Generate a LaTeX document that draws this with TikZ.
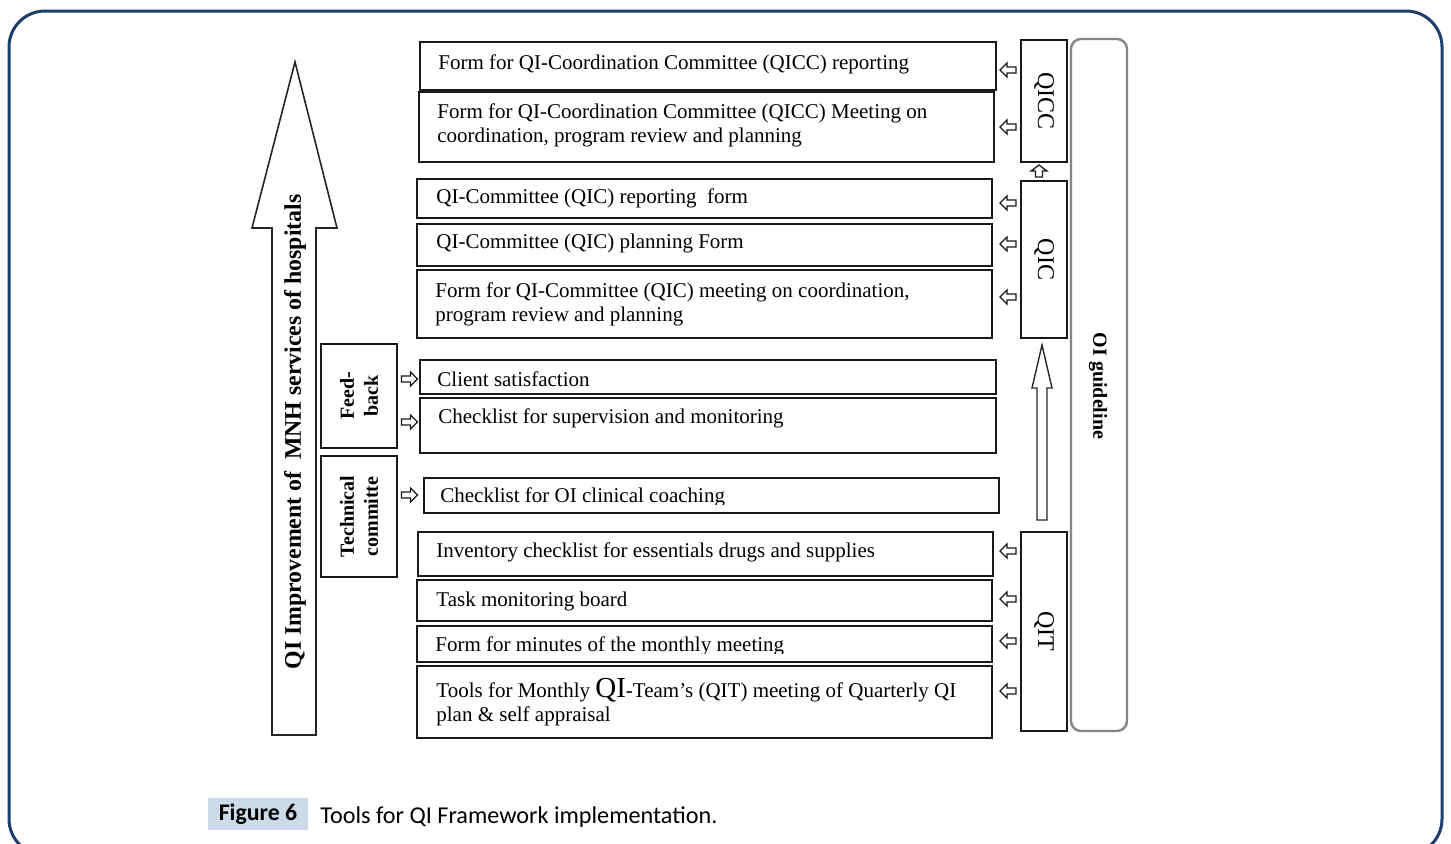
\documentclass[tikz,border=0pt]{standalone}
\usepackage{fontspec}
\setmainfont{Liberation Serif}
\newfontfamily\capfont{Carlito}
\usetikzlibrary{calc}

\definecolor{framenavy}{HTML}{1D3D6C}
\definecolor{capfill}{HTML}{CDDAE8}
\definecolor{guidegray}{HTML}{858585}

\tikzset{
  box/.style={draw=black!90, line width=0.9pt, inner sep=0pt, outer sep=0pt},
  boxtext/.style={anchor=west, inner sep=0pt, align=left, font=\fontsize{10.5}{12}\selectfont},
  sidetext/.style={inner sep=0pt, font=\fontsize{12}{14}\selectfont},
  boldtext/.style={inner sep=0pt, align=center, font=\bfseries\fontsize{10}{12}\selectfont},
  hollow/.style={draw=black!90, line width=0.65pt, line join=miter, fill=white},
  bigarrow/.style={draw=black!85, line width=0.8pt, line join=miter, fill=white},
  larr/.pic={\draw[hollow] (-8,0) -- (-1,-7) -- (-1,-3) -- (8,-3) -- (8,3) -- (-1,3) -- (-1,7) -- cycle;},
  rarr/.pic={\draw[hollow] (8,0) -- (1,-7) -- (1,-3) -- (-8,-3) -- (-8,3) -- (1,3) -- (1,7) -- cycle;},
  uarr/.pic={\draw[hollow] (0,-6) -- (8,0) -- (3.5,0) -- (3.5,6) -- (-3.5,6) -- (-3.5,0) -- (-8,0) -- cycle;},
}

% a plain rectangle node given by its corners (in px units)
\newcommand\rectnode[5]{%
  \node[box, minimum width={(#4-#2)*0.5pt}, minimum height={(#5-#3)*0.5pt}]
    (#1) at ({(#2+#4)/2},{(#3+#5)/2}) {};}

\begin{document}
\begin{tikzpicture}[x=0.5pt, y=-0.5pt]
\useasboundingbox (0,0) rectangle (1451,843);

% outer frame of the figure
\draw[framenavy, line width=1.5pt, rounded corners=18pt] (9,11) rectangle (1442,855);

% large upward arrow on the left
\draw[bigarrow] (272,735) -- (272,228) -- (252,228) -- (295,62) -- (337,228)
  -- (316,228) -- (316,735) -- cycle;
\node[inner sep=0pt, rotate=90, font=\bfseries\fontsize{11.9}{14}\selectfont]
  (improve) at (295,432) {QI Improvement of\ \ MNH services of hospitals};

% feedback and technical committee boxes
\rectnode{feed}{321}{344}{397}{448}
\node[boldtext, rotate=90] (feedtxt) at (feed) {Feed-\\back};
\rectnode{tech}{321}{456}{397}{577}
\node[boldtext, rotate=90] (techtxt) at (tech) {Technical\\committe};

% tool forms
\rectnode{f1}{420}{42}{996}{90}
\node[boxtext] (t1) at (438,64) {Form for QI-Coordination Committee (QICC) reporting};
\rectnode{f2}{419}{92}{994}{162}
\node[boxtext] (t2) at (437,125) {Form for QI-Coordination Committee (QICC) Meeting on\\coordination, program review and planning};
\rectnode{f3}{417}{179}{992}{218}
\node[boxtext] (t3) at (436,198) {QI-Committee (QIC) reporting\ \ form};
\rectnode{f4}{417}{224}{992}{266}
\node[boxtext] (t4) at (436,243) {QI-Committee (QIC) planning Form};
\rectnode{f5}{417}{270}{992}{338}
\node[boxtext] (t5) at (435,304) {Form for QI-Committee (QIC) meeting on coordination,\\program review and planning};
\rectnode{f6}{420}{360}{996}{394}
\node[boxtext] (t6) at (437,379) {Client satisfaction};
\rectnode{f7}{420}{398}{996}{453}
\node[boxtext] (t7) at (438,418) {Checklist for supervision and monitoring};
\rectnode{f8}{424}{478}{999}{513}
\begin{scope}
  \clip (424,478) rectangle (999,504);
  \node[boxtext] (t8) at (440,497) {Checklist for OI clinical coaching};
\end{scope}
\rectnode{f9}{418}{532}{993}{576}
\node[boxtext] (t9) at (436,552) {Inventory checklist for essentials drugs and supplies};
\rectnode{f10}{417}{580}{992}{621}
\node[boxtext] (t10) at (436,601) {Task monitoring board};
\rectnode{f11}{417}{626}{992}{662}
\begin{scope}
  \clip (417,626) rectangle (992,653);
  \node[boxtext] (t11) at (435,646) {Form for minutes of the monthly meeting};
\end{scope}
\rectnode{f12}{417}{666}{992}{738}
\node[boxtext] (t12) at (436,702) {Tools for Monthly {\fontsize{14.5}{12}\selectfont QI}-Team’s (QIT) meeting of Quarterly QI\\plan \& self appraisal};

% level boxes on the right
\rectnode{qicc}{1021}{40}{1067}{162}
\node[sidetext, rotate=-90] (qicctxt) at (qicc) {QICC};
\rectnode{qic}{1021}{181}{1067}{338}
\node[sidetext, rotate=-90] (qictxt) at (qic) {QIC};
\rectnode{qit}{1021}{532}{1067}{731}
\node[sidetext, rotate=-90] (qittxt) at (qit) {QIT};

% guideline column
\draw[guidegray, line width=1.2pt, rounded corners=5pt] (1071,39) rectangle (1127,731);
\node[boldtext, rotate=-90] (guide) at (1098,386) {OI guideline};

% upward arrow from QIT to QIC
\draw[bigarrow, line width=0.7pt] (1037,520) -- (1037,388) -- (1032,388) -- (1042,345)
  -- (1052,388) -- (1047,388) -- (1047,520) -- cycle;

% small hollow arrows
\foreach \yy in {70,127,203,244,297,551,599,641,691}
  \pic at (1008,\yy) {larr};
\foreach \yy in {379,422,495}
  \pic at (409.5,\yy) {rarr};
\pic at (1039,171) {uarr};

% caption
\node[fill=capfill, minimum width=50pt, minimum height=16pt, inner sep=0pt,
  font=\capfont\bfseries\fontsize{11.9}{14}\selectfont] (figtag) at (258,814) {Figure 6};
\node[anchor=base west, inner sep=0pt, font=\capfont\fontsize{12.1}{14}\selectfont]
  (figcap) at (320,823) {Tools for QI Framework implementation.};
\end{tikzpicture}
\end{document}
